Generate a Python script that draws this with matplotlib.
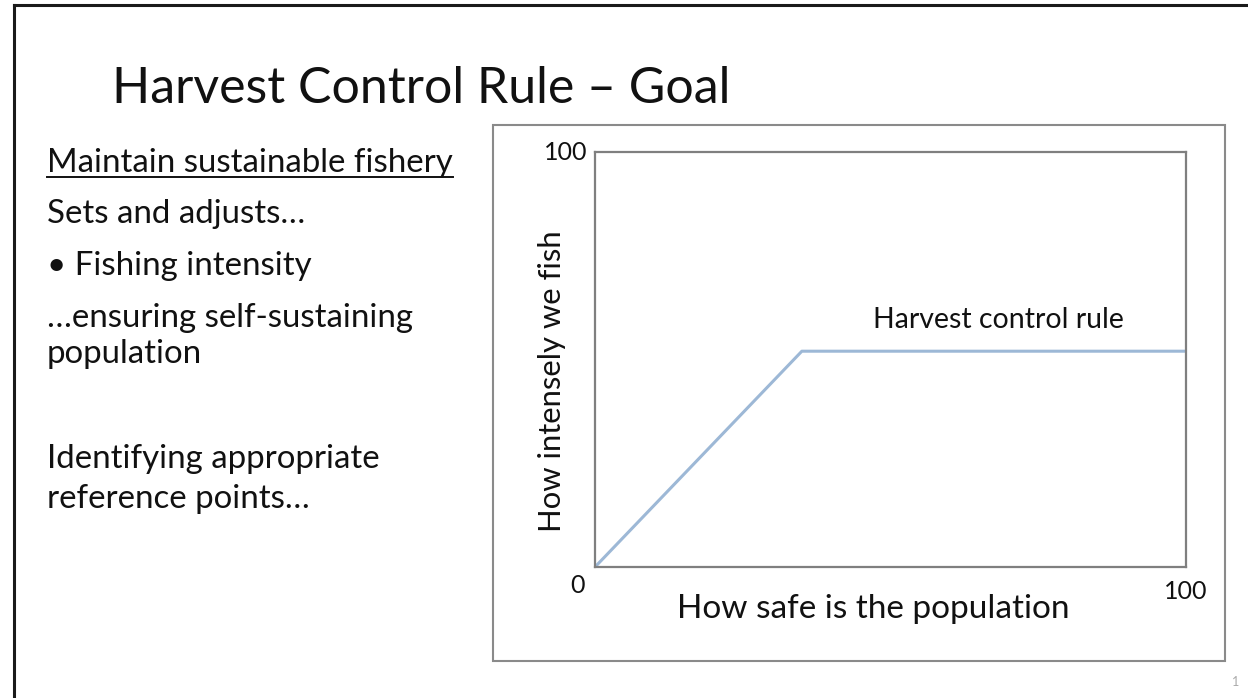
import matplotlib
matplotlib.use("Agg")
import matplotlib.pyplot as plt
from matplotlib.patches import Rectangle
from matplotlib.lines import Line2D

# ---- data ----
x_safety = [0, 35, 100]
y_intensity = [0, 52, 52]
x_ticks = [0, 100]
y_ticks = [0, 100]
title = "Harvest Control Rule \u2013 Goal"
heading = "Maintain sustainable fishery"
body_lines = ["Sets and adjusts\u2026", "\u2022 Fishing intensity",
              "\u2026ensuring self-sustaining", "population",
              "Identifying appropriate", "reference points\u2026"]
xlabel = "How safe is the population"
ylabel = "How intensely we fish"
line_label = "Harvest control rule"

FONT = ["Lato", "DejaVu Sans"]
plt.rcParams['font.family'] = FONT

W, H = 1248, 698
fig = plt.figure(figsize=(W / 100, H / 100), dpi=100)
fig.patch.set_facecolor("white")

def fx(px):
    return px / W

def fy(py):
    return 1 - py / H

# slide border (left and top)
fig.add_artist(Line2D([fx(14), fx(14)], [fy(5), 0], color="#1a1a1a", lw=2.2))
fig.add_artist(Line2D([fx(14), 1], [fy(5), fy(5)], color="#1a1a1a", lw=2.2))

# title
fig.text(fx(112), fy(103), title, fontsize=36, color="#111111", va="baseline", ha="left")

# left text
ht = fig.text(fx(47), fy(172), heading, fontsize=23.8, color="#111111", va="baseline", ha="left")
baselines = [223, 275, 327, 363, 468, 508]
for txt, b in zip(body_lines, baselines):
    fig.text(fx(47), fy(b), txt, fontsize=23.8, color="#111111", va="baseline", ha="left")

fig.canvas.draw()
bb = ht.get_window_extent()
fig.add_artist(Line2D([bb.x0 / W, bb.x1 / W], [fy(177), fy(177)], color="#111111", lw=1.4))

# outer chart box
fig.add_artist(Rectangle((fx(493), fy(661)), fx(1225) - fx(493), fy(125) - fy(661),
                         fill=False, edgecolor="#8a8a8a", lw=1.5))

# plot axes
ax = fig.add_axes([fx(595), fy(567), fx(1186) - fx(595), fy(152) - fy(567)])
ax.plot(x_safety, y_intensity, color="#9db8d6", lw=2.2, solid_capstyle="butt")
ax.set_xlim(x_ticks[0], x_ticks[1])
ax.set_ylim(y_ticks[0], y_ticks[1])
ax.set_xticks([])
ax.set_yticks([])
for s in ax.spines.values():
    s.set_color("#7f7f7f")
    s.set_linewidth(1.6)

# tick labels
ax.text(-0.013, y_ticks[1], str(y_ticks[1]), transform=ax.get_yaxis_transform(),
        ha="right", va="center", fontsize=18, color="#111111")
ax.text(-0.03, -0.045, str(x_ticks[0]), transform=ax.transAxes,
        ha="center", va="center", fontsize=18, color="#111111")
ax.text(x_ticks[1], -0.06, str(x_ticks[1]), transform=ax.get_xaxis_transform(),
        ha="center", va="center", fontsize=18, color="#111111")

# axis labels
ax.text(0.47, -0.1, xlabel, transform=ax.transAxes, ha="center", va="center",
        fontsize=24, color="#111111")
ax.text(-0.073, 0.448, ylabel, transform=ax.transAxes, ha="center", va="center",
        rotation=90, fontsize=22.3, color="#111111")

# line annotation
ax.text(0.682, 0.595, line_label, transform=ax.transAxes, ha="center", va="center",
        fontsize=20.5, color="#111111")

# page number
fig.text(fx(1236), fy(682), "1", fontsize=9, color="#aaaaaa", ha="center", va="center")

fig.savefig("out.png", dpi=100, facecolor="white")
